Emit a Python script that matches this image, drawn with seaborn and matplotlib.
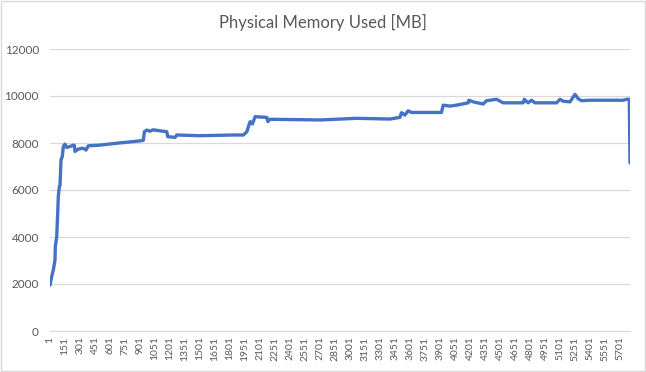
import numpy as np
import pandas as pd
import matplotlib
matplotlib.use('Agg')
import matplotlib.pyplot as plt
import seaborn as sns

# sample index and memory used (MB)
sample = [1, 18, 34, 51, 54, 68, 78, 84, 94, 101, 111, 124, 134, 151, 168,
          201, 234, 244, 251, 270, 284, 328, 340, 361, 384, 501, 668, 834,
          918, 934, 944, 968, 1000, 1030, 1100, 1168, 1178, 1251, 1268, 1501,
          1834, 1934, 1968, 2001, 2024, 2051, 2168, 2178, 2201, 2701, 3064,
          3398, 3498, 3514, 3548, 3581, 3614, 3914, 3931, 3998, 4064, 4181,
          4188, 4231, 4331, 4364, 4464, 4531, 4731, 4741, 4780, 4814, 4848,
          5064, 5098, 5130, 5198, 5248, 5281, 5314, 5398, 5731, 5764, 5791,
          5798]
memory_mb = [1950, 2310, 2600, 3020, 3590, 4010, 5020, 5720, 6140, 6200,
             7280, 7420, 7850, 7950, 7810, 7850, 7910, 7900, 7640, 7700,
             7740, 7780, 7760, 7700, 7880, 7910, 7990, 8060, 8100, 8120,
             8480, 8550, 8500, 8560, 8520, 8480, 8270, 8240, 8340, 8310,
             8340, 8340, 8480, 8910, 8810, 9120, 9090, 8910, 9010, 8980,
             9050, 9020, 9090, 9290, 9190, 9370, 9300, 9300, 9610, 9570,
             9610, 9710, 9820, 9750, 9660, 9800, 9860, 9710, 9710, 9860,
             9710, 9820, 9710, 9710, 9860, 9780, 9750, 10070, 9880, 9800,
             9820, 9820, 9860, 9860, 7150]

tick_positions = list(range(1, 5702, 150))
y_ticks = [0, 2000, 4000, 6000, 8000, 10000, 12000]

df = pd.DataFrame({'sample': sample, 'memory': memory_mb})

sns.set_style('white')
plt.rcParams['font.family'] = ['Lato', 'DejaVu Sans']

fig = plt.figure(figsize=(6.46, 3.72), dpi=100)
ax = fig.add_axes([50 / 646, 1 - 331 / 372, 580 / 646, 282 / 372])

sns.lineplot(data=df, x='sample', y='memory', ax=ax, color='#4472C4',
             linewidth=2.4, estimator=None, sort=False)

ax.set_xlim(1, 5798)
ax.set_ylim(0, 12000)
ax.set_yticks(y_ticks)
ax.set_xticks(tick_positions)
ax.set_xticklabels([str(t) for t in tick_positions], rotation=90,
                   fontsize=7.5, color='#595959')
ax.set_yticklabels([str(t) for t in y_ticks], fontsize=8.5, color='#595959')
ax.tick_params(axis='y', length=0, pad=8)
ax.tick_params(axis='x', length=0, pad=4)
ax.grid(axis='y', color='#D9D9D9', linewidth=0.9)
ax.set_axisbelow(True)
for side in ['top', 'right', 'left']:
    ax.spines[side].set_visible(False)
ax.spines['bottom'].set_color('#D9D9D9')
ax.set_xlabel('')
ax.set_ylabel('')

fig.text(0.5, 1 - 22 / 372, 'Physical Memory Used [MB]', ha='center',
         va='center', fontsize=12, color='#595959')

# light chart-area border like the spreadsheet export
fig.patches.append(plt.Rectangle((0.001, 0.002), 0.997, 0.995,
                                 transform=fig.transFigure, fill=False,
                                 edgecolor='#D9D9D9', linewidth=1))

fig.savefig('out.png', dpi=100)
